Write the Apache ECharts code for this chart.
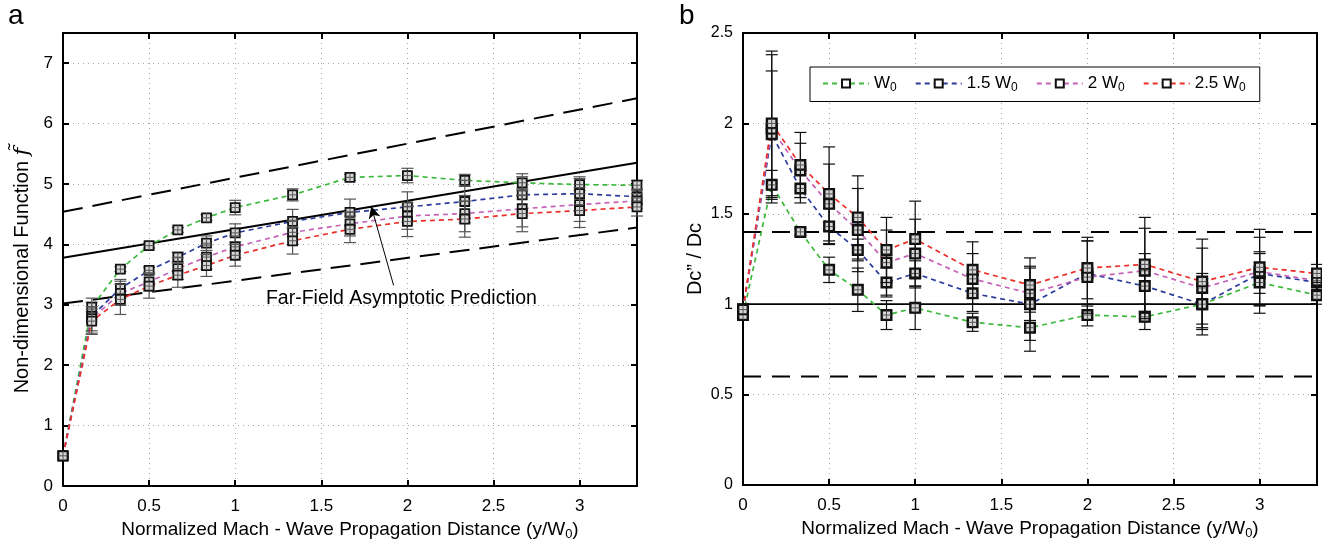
<!DOCTYPE html>
<html><head><meta charset="utf-8">
<script src="https://cdn.jsdelivr.net/npm/echarts@6/dist/echarts.min.js"></script>
<style>html,body{margin:0;padding:0;background:#fff}#c{width:1322px;height:541px}</style>
</head><body><div id="c"></div>
<script>
// ---------- data ----------
const xPos = [0, 0.1667, 0.3333, 0.5, 0.6667, 0.8333, 1, 1.3333, 1.6667, 2, 2.3333, 2.6667, 3, 3.3333];
const xTicks = [0, 0.5, 1, 1.5, 2, 2.5, 3];
const names = ['W0', '1.5 W0', '2 W0', '2.5 W0'];
const colors = ['#3cb93c', '#2b3c9c', '#c463b8', '#ea2e28'];

// Panel a: non-dimensional function
const fA_W0   = [0.5, 2.96, 3.59, 3.98, 4.24, 4.44, 4.61, 4.82, 5.11, 5.14, 5.06, 5.02, 4.99, 4.98];
const fA_15W0 = [0.5, 2.81, 3.27, 3.57, 3.79, 4.02, 4.19, 4.38, 4.53, 4.62, 4.71, 4.82, 4.84, 4.79];
const fA_2W0  = [0.5, 2.77, 3.19, 3.38, 3.60, 3.79, 3.96, 4.20, 4.34, 4.47, 4.51, 4.59, 4.66, 4.72];
const fA_25W0 = [0.5, 2.73, 3.09, 3.31, 3.49, 3.65, 3.82, 4.06, 4.25, 4.38, 4.42, 4.51, 4.56, 4.62];
const eA_W0   = [0, 0.08, 0.04, 0.04, 0.04, 0.05, 0.12, 0.10, 0.05, 0.12, 0.10, 0.10, 0.10, 0.08];
const eA_15W0 = [0, 0.30, 0.15, 0.05, 0.08, 0.12, 0.15, 0.20, 0.22, 0.25, 0.35, 0.35, 0.28, 0.12];
const eA_2W0  = [0, 0.20, 0.20, 0.15, 0.18, 0.20, 0.18, 0.20, 0.20, 0.22, 0.30, 0.30, 0.28, 0.12];
const eA_25W0 = [0, 0.20, 0.25, 0.20, 0.20, 0.18, 0.18, 0.22, 0.22, 0.25, 0.30, 0.30, 0.28, 0.15];
const asymX     = [0, 3.3333];
const asymMid   = [3.78, 5.35];
const asymUpper = [4.54, 6.42];
const asymLower = [3.02, 4.28];
const annotText = 'Far-Field Asymptotic Prediction';
const annotPos = [1.965, 3.1];
const arrowFrom = [1.92, 3.32];
const arrowTo = [1.79, 4.63];

// Panel b: Dc'' / Dc
const dB_W0   = [0.94, 1.66, 1.40, 1.19, 1.08, 0.94, 0.98, 0.90, 0.87, 0.94, 0.93, 1.00, 1.12, 1.05];
const dB_15W0 = [0.97, 1.94, 1.64, 1.43, 1.30, 1.12, 1.17, 1.06, 1.00, 1.17, 1.10, 1.00, 1.17, 1.12];
const dB_2W0  = [0.97, 1.97, 1.74, 1.555, 1.41, 1.23, 1.28, 1.14, 1.06, 1.15, 1.185, 1.09, 1.18, 1.13];
const dB_25W0 = [0.97, 2.00, 1.77, 1.61, 1.48, 1.30, 1.36, 1.19, 1.106, 1.20, 1.22, 1.125, 1.204, 1.17];
const eB_W0   = [0.02, 0.08, 0.02, 0.07, 0.12, 0.08, 0.12, 0.05, 0.13, 0.06, 0.07, 0.14, 0.17, 0.05];
const eB_15W0 = [0.02, 0.35, 0.08, 0.10, 0.06, 0.08, 0.07, 0.10, 0.20, 0.18, 0.18, 0.17, 0.11, 0.05];
const eB_2W0  = [0.02, 0.41, 0.15, 0.22, 0.23, 0.18, 0.19, 0.14, 0.15, 0.20, 0.235, 0.22, 0.19, 0.05];
const eB_25W0 = [0.02, 0.40, 0.18, 0.26, 0.23, 0.18, 0.21, 0.155, 0.15, 0.17, 0.26, 0.235, 0.21, 0.05];
const refB = [1.0, 1.4, 0.6];
const refBX = [0, 3.3333];

// ---------- chart ----------
const FONT = 'Liberation Sans, Arial, sans-serif';
const chart = echarts.init(document.getElementById('c'));
const A = [fA_W0, fA_15W0, fA_2W0, fA_25W0], EA = [eA_W0, eA_15W0, eA_2W0, eA_25W0];
const B = [dB_W0, dB_15W0, dB_2W0, dB_25W0], EB = [eB_W0, eB_15W0, eB_2W0, eB_25W0];

function xAxisDef(gi, top, withName) {
  return {
    type: 'value', gridIndex: gi, min: 0, max: 3.3333, interval: 0.5,
    position: top ? 'top' : 'bottom',
    axisLine: {show: true, onZero: false, lineStyle: {color: '#000', width: 2}},
    axisTick: {show: true, inside: true, length: 6, lineStyle: {color: '#000', width: 2}},
    axisLabel: {show: !top, showMaxLabel: false, color: '#000', fontSize: 17, fontFamily: FONT, margin: 12,
      formatter: v => xTicks.indexOf(Math.round(v * 1000) / 1000) >= 0 ? String(Math.round(v * 10) / 10) : ''},
    splitLine: {show: !top, lineStyle: {color: '#a8a8a8', type: [1, 4], width: 1}},
    name: withName ? '{t|Normalized Mach - Wave Propagation Distance (y/W}{s|0}{t|)}' : '',
    nameLocation: 'middle', nameGap: 30,
    nameTextStyle: {color: '#000', fontFamily: FONT, rich: {t: {fontSize: 19, fontFamily: FONT, color: '#000'}, s: {fontSize: 13, fontFamily: FONT, color: '#000', padding: [11, 0, 0, 0]}}}
  };
}
function yAxisDef(gi, right, max, interval, name, gap, showMax, pad) {
  return {
    type: 'value', gridIndex: gi, min: 0, max: max, interval: interval,
    position: right ? 'right' : 'left',
    axisLine: {show: true, onZero: false, lineStyle: {color: '#000', width: 2}},
    axisTick: {show: true, inside: true, length: 6, lineStyle: {color: '#000', width: 2}},
    axisLabel: {show: !right, showMaxLabel: showMax, color: '#000', fontSize: gi === 0 ? 17 : 16, fontFamily: FONT, margin: 10},
    splitLine: {show: !right, lineStyle: {color: '#a8a8a8', type: [1, 4], width: 1}},
    name: right ? '' : name, nameLocation: 'middle', nameGap: gap,
    nameTextStyle: {color: '#000', fontFamily: FONT, fontSize: 20, padding: pad || 0,
      rich: {t: {fontSize: 20, fontFamily: FONT, color: '#000'}, i: {fontSize: 21, fontStyle: 'italic', fontFamily: 'DejaVu Serif', color: '#000'}}}
  };
}

function markers(xi, yi, vals, errs, barColor) {
  return {
    type: 'custom', xAxisIndex: xi, yAxisIndex: yi, z: 5, silent: true, clip: false,
    data: xPos.map((x, i) => [x, vals[i], errs[i]]),
    renderItem(params, api) {
      const x = api.value(0), y = api.value(1), e = api.value(2);
      const c = api.coord([x, y]);
      const t = api.coord([x, y + e]), b = api.coord([x, y - e]);
      const s = 4.5, cw = 6;
      const ls = {stroke: barColor, lineWidth: 1.2};
      const ch = [];
      if (e > 0) {
        ch.push({type: 'line', shape: {x1: c[0], y1: t[1], x2: c[0], y2: b[1]}, style: ls});
        ch.push({type: 'line', shape: {x1: c[0] - cw, y1: t[1], x2: c[0] + cw, y2: t[1]}, style: ls});
        ch.push({type: 'line', shape: {x1: c[0] - cw, y1: b[1], x2: c[0] + cw, y2: b[1]}, style: ls});
      }
      ch.push({type: 'rect', shape: {x: c[0] - s, y: c[1] - s, width: 2 * s, height: 2 * s}, style: {fill: '#d8d8d8', stroke: '#111', lineWidth: 1.8}});
      ch.push({type: 'line', shape: {x1: c[0], y1: c[1] - s, x2: c[0], y2: c[1] + s}, style: {stroke: '#555', lineWidth: 1}});
      ch.push({type: 'line', shape: {x1: c[0] - s, y1: c[1], x2: c[0] + s, y2: c[1]}, style: {stroke: '#555', lineWidth: 1}});
      return {type: 'group', children: ch};
    }
  };
}

const series = [];
// panel a reference lines
series.push({type: 'line', name: 'asym', xAxisIndex: 0, yAxisIndex: 0, symbol: 'none', silent: true, z: 2,
  data: asymX.map((x, i) => [x, asymMid[i]]), lineStyle: {color: '#000', width: 2},
  markLine: {silent: true, symbol: ['none', 'arrow'], symbolSize: [9, 12], label: {show: false},
    lineStyle: {color: '#000', width: 1, type: 'solid'},
    data: [[{coord: arrowFrom}, {coord: arrowTo}]]},
  markPoint: {silent: true, symbol: 'circle', symbolSize: 1, itemStyle: {color: 'rgba(0,0,0,0)'},
    label: {show: true, position: 'inside', formatter: annotText, color: '#000', fontSize: 19.5, fontFamily: FONT},
    data: [{coord: annotPos}]}
});
series.push({type: 'line', name: 'asymU', xAxisIndex: 0, yAxisIndex: 0, symbol: 'none', silent: true, z: 2,
  data: asymX.map((x, i) => [x, asymUpper[i]]), lineStyle: {color: '#000', width: 2, type: [20, 10]}});
series.push({type: 'line', name: 'asymL', xAxisIndex: 0, yAxisIndex: 0, symbol: 'none', silent: true, z: 2,
  data: asymX.map((x, i) => [x, asymLower[i]]), lineStyle: {color: '#000', width: 2, type: [20, 10]}});
// panel b reference lines
refB.forEach((r, k) => {
  series.push({type: 'line', name: 'ref' + k, xAxisIndex: 2, yAxisIndex: 2, symbol: 'none', silent: true, z: 2,
    data: refBX.map(x => [x, r]), lineStyle: {color: '#000', width: k === 0 ? 1.8 : 2, type: k === 0 ? 'solid' : [18, 11]}});
});
// colored dashed series
for (let k = 0; k < 4; k++) {
  series.push({type: 'line', name: 'a_' + names[k], xAxisIndex: 0, yAxisIndex: 0, symbol: 'none', z: 3, silent: true,
    data: xPos.map((x, i) => [x, A[k][i]]), lineStyle: {color: colors[k], width: 1.7, type: [5, 4]}});
}
for (let k = 0; k < 4; k++) {
  series.push({type: 'line', name: names[k], xAxisIndex: 2, yAxisIndex: 2, symbol: 'emptyRect', symbolSize: 10, z: 3, silent: true,
    itemStyle: {color: '#111', borderColor: '#111', borderWidth: 1.8},
    data: xPos.map((x, i) => [x, B[k][i]]), lineStyle: {color: colors[k], width: 1.7, type: [5, 4]}});
}
for (let k = 0; k < 4; k++) series.push(markers(0, 0, A[k], EA[k], '#555'));
for (let k = 0; k < 4; k++) series.push(markers(2, 2, B[k], EB[k], '#111'));

const option = {
  animation: false,
  backgroundColor: '#fff',
  textStyle: {fontFamily: FONT},
  grid: [
    {left: 63, top: 33, width: 574, height: 453, show: false, containLabel: false, outerBoundsMode: 'none'},
    {left: 743, top: 33, width: 574, height: 452, show: false, containLabel: false, outerBoundsMode: 'none'}
  ],
  xAxis: [xAxisDef(0, false, true), xAxisDef(0, true, false), xAxisDef(1, false, true), xAxisDef(1, true, false)],
  yAxis: [
    yAxisDef(0, false, 7.5, 1, '{t|Non-dimensional Function }{i|f\u0303}', 30, false, [0, 22, 0, 0]),
    yAxisDef(0, true, 7.5, 1, '', 0, false),
    yAxisDef(1, false, 2.5, 0.5, 'Dc\u201D / Dc', 38, true),
    yAxisDef(1, true, 2.5, 0.5, '', 0, true)
  ],
  legend: {
    show: true, data: names, left: 810, top: 67, orient: 'horizontal',
    backgroundColor: '#fff', borderColor: '#000', borderWidth: 1, padding: [8, 14, 8, 12],
    itemWidth: 46, itemHeight: 10, itemGap: 18, selectedMode: false,
    formatter: n => n.replace('W0', '{t|W}{s|0}').replace(/^([0-9.]+) /, '{t|$1 }'),
    textStyle: {color: '#000', fontSize: 17, fontFamily: FONT,
      rich: {t: {fontSize: 17, fontFamily: FONT, color: '#000'}, s: {fontSize: 12, fontFamily: FONT, color: '#000', padding: [8, 0, 0, 0]}}}
  },
  graphic: [
    {type: 'text', left: 8, top: 2, style: {text: 'a', fontSize: 28, fontFamily: FONT, fill: '#000'}},
    {type: 'text', left: 679, top: 2, style: {text: 'b', fontSize: 28, fontFamily: FONT, fill: '#000'}}
  ],
  series: series
};
chart.setOption(option);
</script>
</body></html>
